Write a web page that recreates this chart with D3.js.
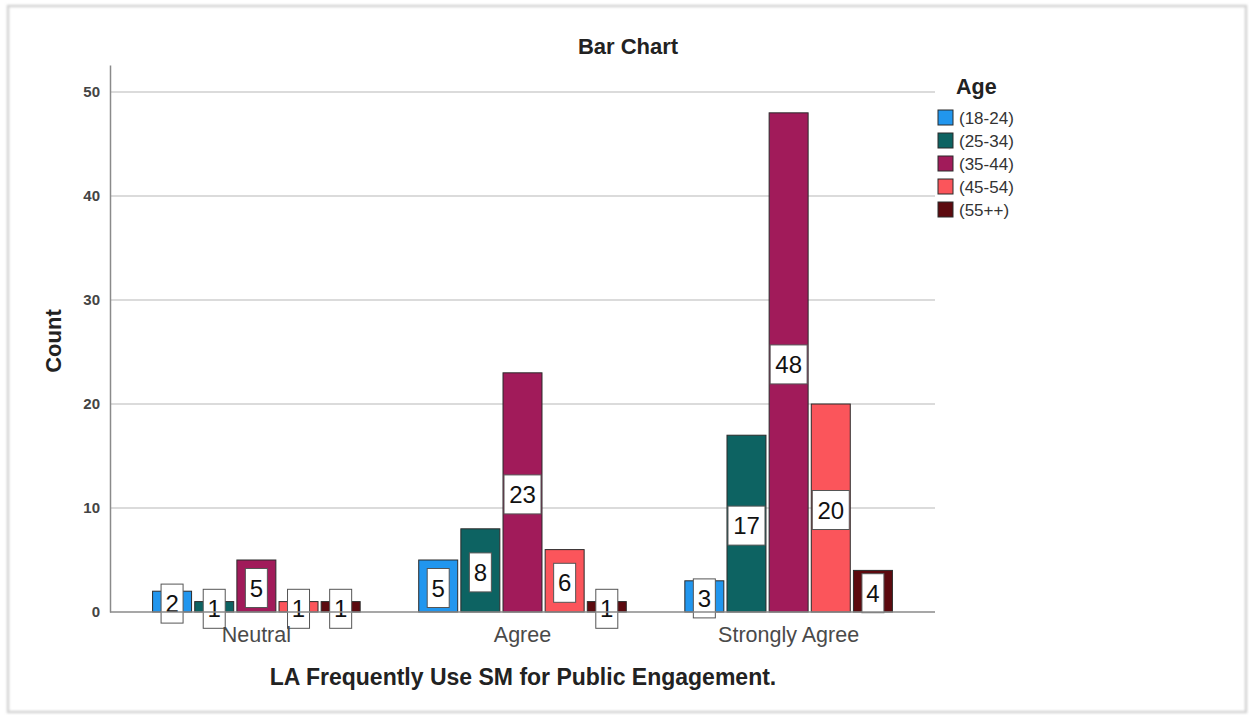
<!DOCTYPE html>
<html>
<head>
<meta charset="utf-8">
<script src="https://cdn.jsdelivr.net/npm/d3@7"></script>
<style>
  html, body { margin: 0; padding: 0; background: #fff; }
  svg { display: block; font-family: "Liberation Sans", Arial, sans-serif; }
</style>
</head>
<body>
<svg id="chart" width="1249" height="715"></svg>
<script>
// Responses on the x axis, age groups as clustered bars
const categories = ["Neutral", "Agree", "Strongly Agree"];
const ageGroups = ["(18-24)", "(25-34)", "(35-44)", "(45-54)", "(55++)"];
const age18_24 = [2, 5, 3];
const age25_34 = [1, 8, 17];
const age35_44 = [5, 23, 48];
const age45_54 = [1, 6, 20];
const age55plus = [1, 1, 4];
const yTicks = [0, 10, 20, 30, 40, 50];
const colors = ["#2196ee", "#0d6362", "#a11b5a", "#fb555b", "#5c0a0f"];

const seriesValues = [age18_24, age25_34, age35_44, age45_54, age55plus];
const rows = [];
categories.forEach((c, ci) => {
  ageGroups.forEach((g, gi) => rows.push({ category: c, group: g, gi, value: seriesValues[gi][ci] }));
});

const svg = d3.select("#chart");

// soft frame around the whole output
const defs = svg.append("defs");
defs.append("filter").attr("id", "soft").attr("x", "-5%").attr("y", "-5%").attr("width", "110%").attr("height", "110%")
  .append("feGaussianBlur").attr("stdDeviation", 1.2);
svg.append("rect").attr("x", 8).attr("y", 6).attr("width", 1238).attr("height", 706)
  .attr("fill", "none").attr("stroke", "#d4d4d4").attr("stroke-width", 2.5).attr("filter", "url(#soft)");

const plotLeft = 110, plotRight = 935, plotTop = 65, plotBottom = 612;

const x0 = d3.scaleBand().domain(categories).range([plotLeft, plotRight]).paddingInner(0.22).paddingOuter(0.16);
const x1 = d3.scaleBand().domain(ageGroups).range([0, x0.bandwidth()]).paddingInner(0.075);
const y = d3.scaleLinear().domain([0, 52.6]).range([plotBottom, plotTop]);
const color = d3.scaleOrdinal().domain(ageGroups).range(colors);

// gridlines
svg.append("g").selectAll("line").data(yTicks.filter(t => t > 0)).join("line")
  .attr("x1", plotLeft).attr("x2", plotRight)
  .attr("y1", d => y(d)).attr("y2", d => y(d))
  .attr("stroke", "#cfcfcf").attr("stroke-width", 1.5);

// y axis
const yAxis = svg.append("g").attr("transform", `translate(${plotLeft},0)`)
  .call(d3.axisLeft(y).tickValues(yTicks).tickSize(0).tickPadding(10));
yAxis.select(".domain").attr("stroke", "#8a8a8a").attr("stroke-width", 1.5);
yAxis.selectAll("text").attr("font-size", 15).attr("font-weight", "bold").attr("fill", "#444")
  .attr("font-family", "\"Liberation Sans\", Arial, sans-serif");

// bars
const groups = svg.append("g").selectAll("g").data(categories).join("g")
  .attr("transform", d => `translate(${x0(d)},0)`);

groups.selectAll("rect").data(c => rows.filter(r => r.category === c)).join("rect")
  .attr("x", d => x1(d.group))
  .attr("y", d => y(d.value))
  .attr("width", x1.bandwidth())
  .attr("height", d => y(0) - y(d.value))
  .attr("fill", d => color(d.group))
  .attr("stroke", "#2b2b2b").attr("stroke-width", 1);

// x axis baseline
svg.append("line").attr("x1", plotLeft).attr("x2", plotRight).attr("y1", plotBottom).attr("y2", plotBottom)
  .attr("stroke", "#8a8a8a").attr("stroke-width", 1.5);

// value labels in white boxes at bar mid-height
const labels = groups.selectAll("g.lbl").data(c => rows.filter(r => r.category === c)).join("g")
  .attr("class", "lbl")
  .attr("transform", d => `translate(${x1(d.group) + x1.bandwidth() / 2},${(y(d.value) + y(0)) / 2 + 2})`);
labels.each(function (d) {
  const g = d3.select(this);
  const w = String(d.value).length > 1 ? 37 : 22;
  g.append("rect").attr("x", -w / 2).attr("y", -19.5).attr("width", w).attr("height", 39)
    .attr("fill", "#fff").attr("stroke", "#555").attr("stroke-width", 1);
  g.append("text").attr("text-anchor", "middle").attr("dy", "0.36em")
    .attr("font-size", 24).attr("fill", "#111").text(d.value);
});

// category labels
svg.append("g").selectAll("text").data(categories).join("text")
  .attr("x", d => x0(d) + x0.bandwidth() / 2).attr("y", 642)
  .attr("text-anchor", "middle").attr("font-size", 21.5).attr("fill", "#4a4a4a")
  .text(d => d);

// titles
svg.append("text").attr("x", 628).attr("y", 54).attr("text-anchor", "middle")
  .attr("font-size", 22).attr("font-weight", "bold").attr("fill", "#222").text("Bar Chart");
svg.append("text").attr("x", 523).attr("y", 685).attr("text-anchor", "middle")
  .attr("font-size", 23).attr("font-weight", "bold").attr("fill", "#222")
  .text("LA Frequently Use SM for Public Engagement.");
svg.append("text").attr("transform", "translate(61,341) rotate(-90)").attr("text-anchor", "middle")
  .attr("font-size", 22).attr("font-weight", "bold").attr("fill", "#222").text("Count");

// legend
const legend = svg.append("g").attr("transform", "translate(938,0)");
legend.append("text").attr("x", 18).attr("y", 94).attr("font-size", 21.5).attr("font-weight", "bold")
  .attr("fill", "#222").text("Age");
const items = legend.selectAll("g.item").data(ageGroups).join("g").attr("class", "item")
  .attr("transform", (d, i) => `translate(0,${110 + i * 23})`);
items.append("rect").attr("width", 15).attr("height", 15)
  .attr("fill", d => color(d)).attr("stroke", "#2b2b2b").attr("stroke-width", 1);
items.append("text").attr("x", 21).attr("y", 8).attr("dy", "0.36em")
  .attr("font-size", 17).attr("fill", "#333").text(d => d);
</script>
</body>
</html>
